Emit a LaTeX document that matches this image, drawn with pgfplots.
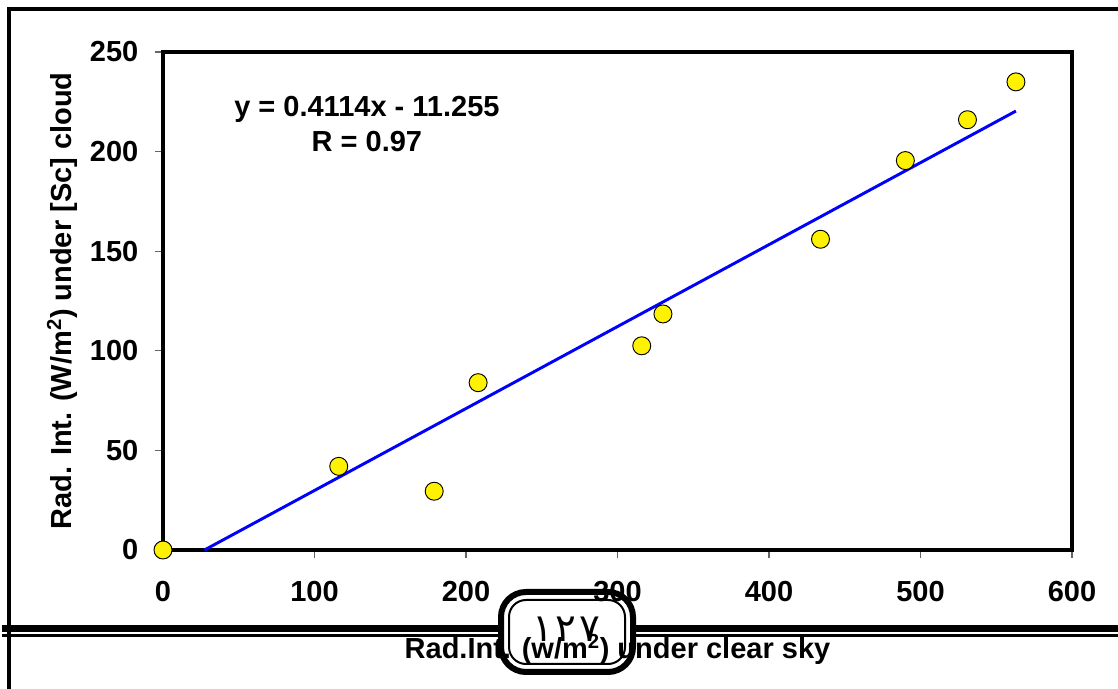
\documentclass[border=0pt]{standalone}
\usepackage{fontspec}
\setmainfont{Liberation Sans}
\newfontfamily\arabicfont[Script=Arabic]{DejaVu Sans}
\usepackage{pgfplots}
\pgfplotsset{compat=1.18}

\newcommand\bigbf{\fontsize{21.75}{26.25}\selectfont\bfseries}

\begin{document}
\begin{tikzpicture}[x=0.75pt,y=0.75pt]
\useasboundingbox (0,0) rectangle (1118,689);
% page frame and footer rules
\draw[line width=2.6pt] (9,0) -- (9,680) -- (1118,680);
\draw[line width=5.2pt] (2,60.5) -- (1118,60.5);
\draw[line width=1.9pt] (2,53.7) -- (1118,53.7);
\fill[white, rounded corners=18.75pt] (501,17) rectangle (633,97);
\node[font=\arabicfont\fontsize{29}{29}\selectfont, inner sep=0] at (566,60)
  {١\hspace{2pt}٢\hspace{2pt}٧};

\begin{axis}[
  at={(122.25pt,104.25pt)}, anchor=south west,
  scale only axis, width=681.75pt, height=373.5pt,
  xmin=0, xmax=600, ymin=0, ymax=250,
  xtick={0,100,...,600}, ytick={0,50,...,250},
  separate axis lines,
  axis line style={line width=2.4pt, line cap=rect},
  tick align=outside, xtick pos=bottom, ytick pos=left,
  major tick length=6pt,
  tick style={line width=0.8pt, black!60},
  /pgf/number format/assume math mode=true,
  tick label style={font=\bigbf},
  xticklabel style={yshift=-14pt},
  yticklabel style={xshift=-9pt},
  label style={font=\bigbf},
  xlabel={Rad.Int. (w/m\textsuperscript{2}) under clear sky},
  ylabel={Rad. Int. (W/m\textsuperscript{2}) under [Sc] cloud},
  xlabel style={at={(axis description cs:0.5,-0.2)}, anchor=center},
  ylabel style={at={(axis description cs:-0.111,0.5)}, anchor=center},
  clip=false,
]
\addplot[blue, line width=2.2pt] coordinates {(27.36,0) (563,220.36)};
\addplot[only marks, mark=*, mark size=6.75pt,
  mark options={fill=yellow, draw=black, line width=0.7pt}]
  coordinates {
  (0,0) (116,42) (179,29.5) (208,84) (316,102.5)
  (330,118.5) (434,156) (490,195.5) (531,216) (563,235)
  };
\node[align=center, font=\bigbf, inner sep=0] at (axis cs:134.6,213.6)
  {y = 0.4114x - 11.255\\R = 0.97};
\end{axis}

\draw[line width=4.5pt, rounded corners=18.75pt] (501,17) rectangle (633,97);
\draw[line width=1.5pt, rounded corners=12.75pt] (509,25) rectangle (625,89);
\end{tikzpicture}
\end{document}
